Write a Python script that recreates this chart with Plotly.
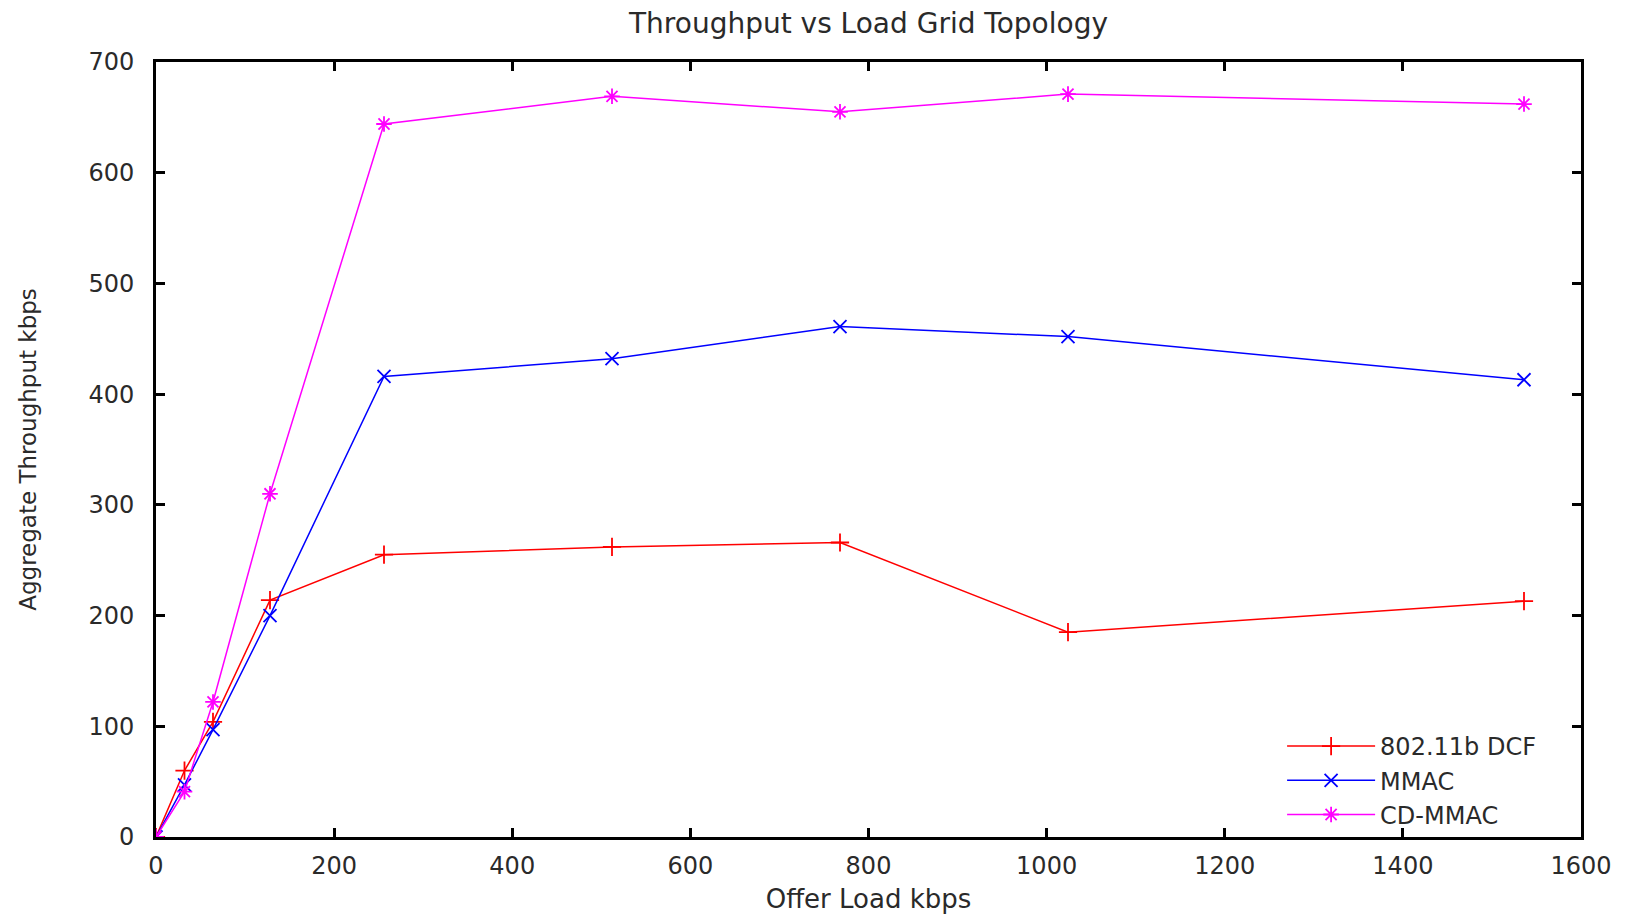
import plotly.graph_objects as go

offer_load = [0, 32, 64, 128, 256, 512, 768, 1024, 1536]
dcf = [0, 60, 104, 214, 255, 262, 266, 185, 213]
mmac = [0, 47, 97, 200, 416, 432, 461, 452, 413]
cdmmac = [0, 41, 122, 310, 644, 669, 655, 671, 662]

series = [
    ("802.11b DCF", dcf, "#ff0000", "cross-thin-open"),
    ("MMAC", mmac, "#0000ff", "x-thin-open"),
    ("CD-MMAC", cdmmac, "#ff00ff", "asterisk-open"),
]

FONT = "DejaVu Sans, Liberation Sans, Arial, sans-serif"
TXT = "#2a2a2a"

fig = go.Figure()
for name, vals, col, sym in series:
    fig.add_trace(go.Scatter(
        x=offer_load, y=vals, name=name, mode="lines+markers",
        line=dict(color=col, width=1.5),
        marker=dict(symbol=sym, size=13, color=col, line=dict(color=col, width=1.8)),
    ))

axis_common = dict(
    showline=True, linecolor="black", linewidth=3, mirror="ticks",
    ticks="inside", ticklen=9, tickwidth=3, tickcolor="black",
    showgrid=False, zeroline=False, automargin=False,
    tickfont=dict(family=FONT, size=24, color=TXT),
)

fig.update_layout(
    width=1626, height=918,
    margin=dict(l=156, r=45, t=62, b=81),
    paper_bgcolor="white", plot_bgcolor="white",
    title=dict(text="Throughput vs Load Grid Topology", x=0.5, xref="paper",
               xanchor="center", y=1 - 23 / 918, yanchor="middle",
               font=dict(family=FONT, size=28, color=TXT)),
    xaxis=dict(range=[0, 1600], dtick=200, ticklabelstandoff=5,
               title=dict(text="Offer Load kbps", standoff=12,
                          font=dict(family=FONT, size=26, color=TXT)),
               **axis_common),
    yaxis=dict(range=[0, 700], dtick=100, ticklabelstandoff=14,
               title=dict(text="Aggregate Throughput kbps", standoff=46,
                          font=dict(family=FONT, size=23, color=TXT)),
               **axis_common),
    legend=dict(x=0.972, y=0.0, xanchor="right", yanchor="bottom",
                bgcolor="rgba(0,0,0,0)", borderwidth=0,
                font=dict(family=FONT, size=24, color=TXT),
                tracegroupgap=0, itemwidth=88),
    showlegend=True,
)

fig.write_html("out.html")
